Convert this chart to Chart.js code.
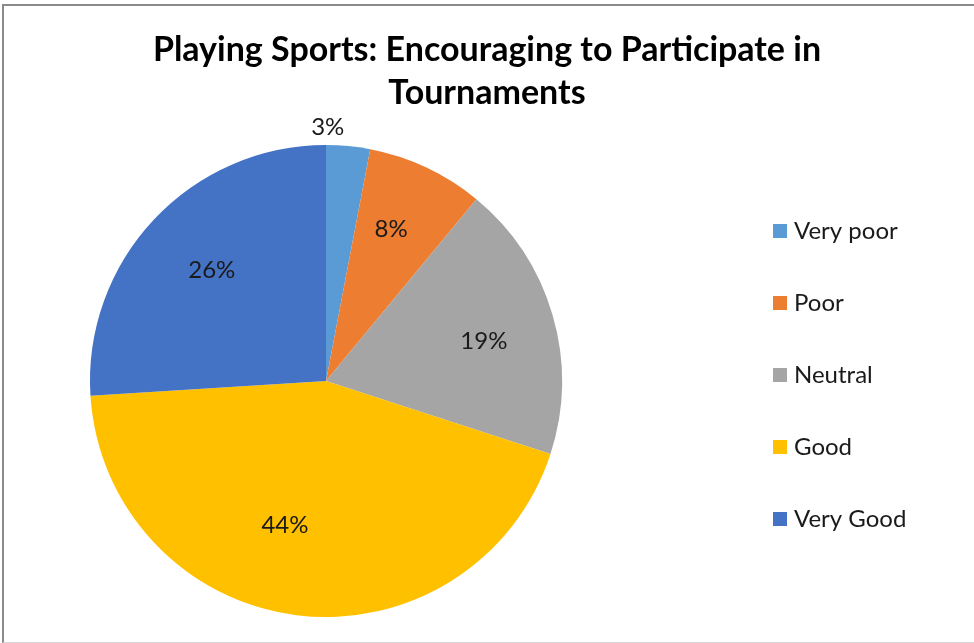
<!DOCTYPE html>
<html>
<head>
<meta charset="utf-8">
<title>Playing Sports: Encouraging to Participate in Tournaments</title>
<script src="https://cdn.jsdelivr.net/npm/chart.js@4.4.1/dist/chart.umd.min.js"></script>
<style>
  html, body { margin: 0; padding: 0; background: #fff; }
  #wrap { position: relative; width: 974px; height: 643px; overflow: hidden; }
  #frame {
    position: absolute; left: 2px; top: 4px; width: 990px; height: 636px;
    border-top: 2px solid #8a8a8a; border-left: 2px solid #8a8a8a;
    border-bottom: 1px solid #d6d6d6; pointer-events: none;
  }
</style>
</head>
<body>
<div id="wrap">
  <canvas id="pieChart" width="974" height="643"></canvas>
  <div id="frame"></div>
</div>
<script>
// Survey answers, percent of respondents
const ratings = ['Very poor', 'Poor', 'Neutral', 'Good', 'Very Good'];
const shares = [3, 8, 19, 44, 26];
const sliceColors = ['#5B9BD5', '#ED7D31', '#A5A5A5', '#FFC000', '#4472C4'];
const titleLines = ['Playing Sports: Encouraging to Participate in', 'Tournaments'];

const FONT = 'Lato, "Open Sans", sans-serif';
const LEGEND_COLUMN = 322; // room kept free right of the pie for the legend

// Empty box on the right so the pie sits left while the title stays centred on the full width
const legendColumn = {
  id: 'legendColumn',
  beforeInit(chart) {
    Chart.layouts.addBox(chart, {
      position: 'right',
      weight: 0,
      fullSize: false,
      options: {},
      isHorizontal() { return false; },
      update(maxWidth, maxHeight) { this.width = LEGEND_COLUMN; this.height = maxHeight; },
      draw() {}
    });
  }
};

// Percent labels, placed along each slice's own arc (radius fraction + small angle nudge in degrees)
const sliceLabels = {
  id: 'sliceLabels',
  afterDatasetsDraw(chart, args, opts) {
    const ctx = chart.ctx;
    const meta = chart.getDatasetMeta(0);
    const values = chart.data.datasets[0].data;
    ctx.save();
    ctx.font = opts.font;
    ctx.fillStyle = opts.color;
    ctx.textAlign = 'center';
    ctx.textBaseline = 'middle';
    meta.data.forEach((arc, i) => {
      const p = arc.getProps(['x', 'y', 'startAngle', 'endAngle', 'outerRadius'], true);
      const a = (p.startAngle + p.endAngle) / 2 + opts.nudge[i] * Math.PI / 180;
      const r = p.outerRadius * opts.radius[i];
      ctx.fillText(values[i] + '%', p.x + r * Math.cos(a), p.y + r * Math.sin(a));
    });
    ctx.restore();
  }
};

// Legend column on the right: square swatch + category name
const sideLegend = {
  id: 'sideLegend',
  afterDraw(chart, args, opts) {
    const ctx = chart.ctx;
    const colors = chart.data.datasets[0].backgroundColor;
    ctx.save();
    ctx.font = opts.font;
    ctx.textAlign = 'left';
    ctx.textBaseline = 'middle';
    chart.data.labels.forEach((label, i) => {
      const y = opts.top + i * opts.step;
      ctx.fillStyle = colors[i];
      ctx.fillRect(opts.left, y - opts.box / 2, opts.box, opts.box);
      ctx.fillStyle = opts.color;
      ctx.fillText(label, opts.left + opts.box + 7, y);
    });
    ctx.restore();
  }
};

new Chart(document.getElementById('pieChart'), {
  type: 'pie',
  data: {
    labels: ratings,
    datasets: [{
      data: shares,
      backgroundColor: sliceColors,
      borderWidth: 0
    }]
  },
  options: {
    responsive: false,
    animation: false,
    layout: { padding: { top: 10, bottom: 26, left: 0, right: 0 } },
    plugins: {
      legend: { display: false },
      tooltip: { enabled: false },
      title: {
        display: true,
        text: titleLines,
        color: '#000',
        font: { family: FONT, size: 34, weight: 'bold', lineHeight: '43px' },
        padding: { top: 18.5, bottom: 30.5 }
      },
      sliceLabels: {
        font: '24px ' + FONT,
        color: '#1a1a1a',
        radius: [1.075, 0.70, 0.69, 0.635, 0.675],
        nudge: [-5, -2, 2, 8.7, 1]
      },
      sideLegend: {
        font: '24px ' + FONT,
        color: '#1a1a1a',
        left: 773,
        top: 231,
        step: 72,
        box: 14
      }
    }
  },
  plugins: [legendColumn, sliceLabels, sideLegend]
});
</script>
</body>
</html>
